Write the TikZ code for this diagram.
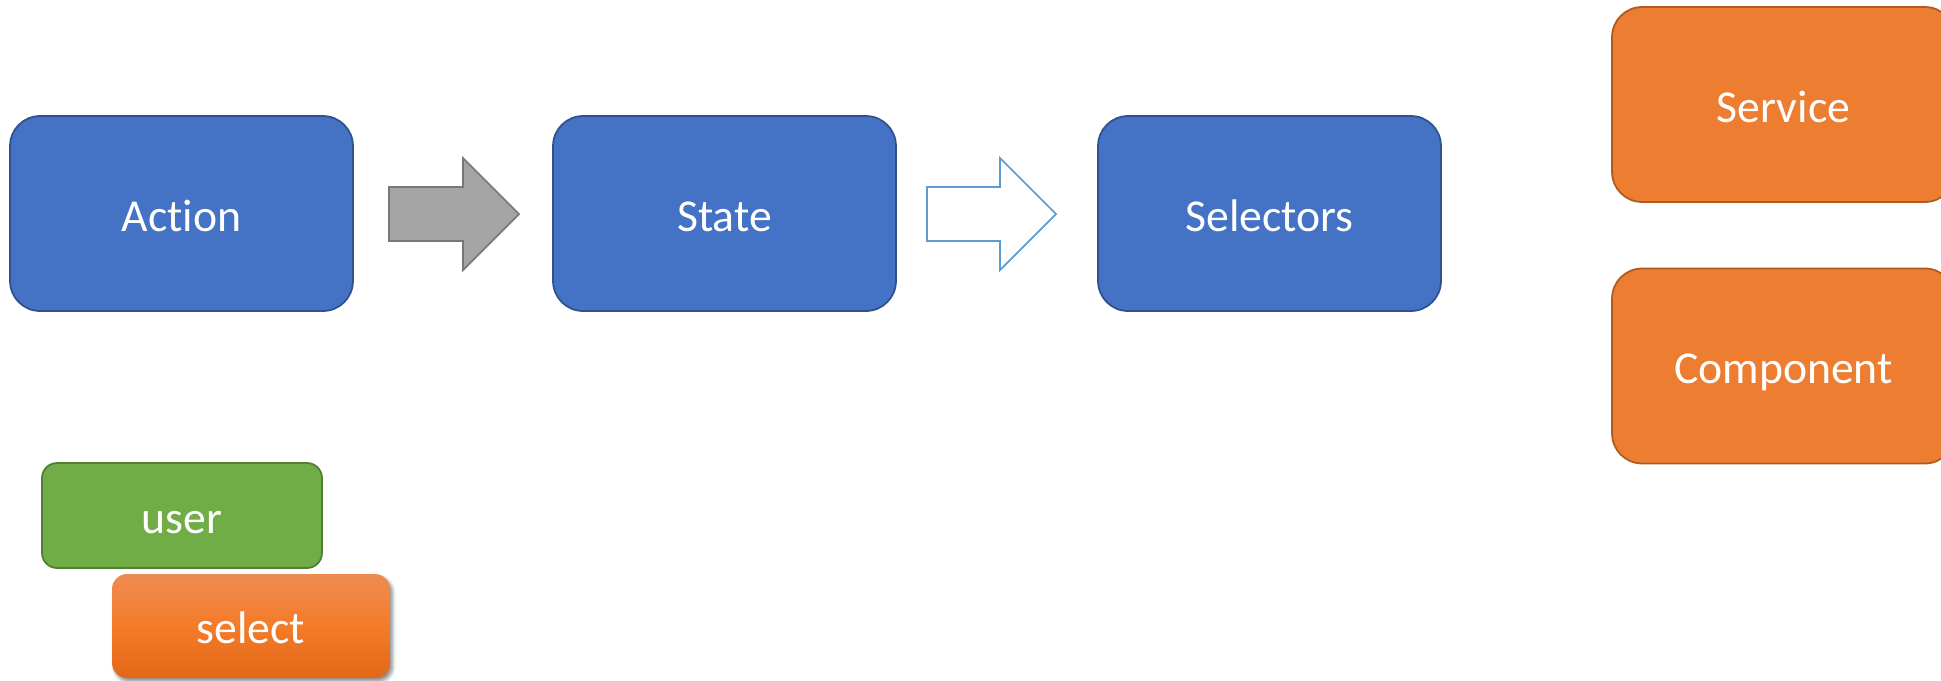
\documentclass[tikz,border=0pt]{standalone}
\usepackage{fontspec}
\setmainfont{Carlito}[Ligatures=NoCommon]
\usetikzlibrary{shadows.blur}
\definecolor{bluefill}{HTML}{4472C4}
\definecolor{blueline}{HTML}{2F528F}
\definecolor{grayfill}{HTML}{A5A5A5}
\definecolor{grayline}{HTML}{787878}
\definecolor{lightblue}{HTML}{5B9BD5}
\definecolor{orfill}{HTML}{ED7D31}
\definecolor{orline}{HTML}{AE5A21}
\definecolor{grfill}{HTML}{70AD47}
\definecolor{grline}{HTML}{507E32}
\definecolor{seltop}{HTML}{EF8B53}
\definecolor{selmid}{HTML}{F47B28}
\definecolor{selbot}{HTML}{E26818}
\tikzset{
  boxtext/.style={text=white, font=\fontsize{26}{30}\selectfont,
    text height=20.3pt, text depth=0pt},
  bigbox/.style={rectangle, rounded corners=0.6cm, inner sep=0pt,
    minimum width=6.86cm, minimum height=3.9cm, line width=1pt, boxtext},
  bluebox/.style={bigbox, fill=bluefill, draw=blueline},
  orbox/.style={bigbox, fill=orfill, draw=orline},
  smallbox/.style={rectangle, rounded corners=0.3cm, inner sep=0pt,
    minimum width=5.6cm, minimum height=2.1cm, line width=1pt, boxtext},
  blockarrow/.style={line width=1pt, line join=miter},
}
\begin{document}
\begin{tikzpicture}[x=0.02cm,y=-0.02cm]
\useasboundingbox (0,0) rectangle (1941,680);
\clip (0,0) rectangle (1941,680);
% main row
\node[bluebox] (action) at (181.5,213.5) {Action};
\node[bluebox] (state) at (724.5,213.5) {State};
\node[bluebox] (selectors) at (1269.5,213.5) {Selectors};
% block arrows
\draw[blockarrow, fill=grayfill, draw=grayline]
  (389,187) -- (463,187) -- (463,158) -- (519,214) -- (463,270) -- (463,241) -- (389,241) -- cycle;
\draw[blockarrow, fill=white, draw=lightblue]
  (927,187) -- (1000,187) -- (1000,158) -- (1056,214) -- (1000,270) -- (1000,241) -- (927,241) -- cycle;
% right column
\node[orbox] (service) at (1783.5,104.5) {Service};
\node[orbox] (component) at (1783.5,366) {Component};
% legend
\node[smallbox, fill=grfill, draw=grline] (user) at (182,515.5) {user};
\node[smallbox, draw=none, top color=seltop, bottom color=selbot, middle color=selmid,
  blur shadow={shadow xshift=1.5pt, shadow yshift=-2pt, shadow blur steps=6, shadow opacity=45},
  minimum width=5.56cm, minimum height=2.08cm] (select) at (251,626) {select};
\end{tikzpicture}
\end{document}
